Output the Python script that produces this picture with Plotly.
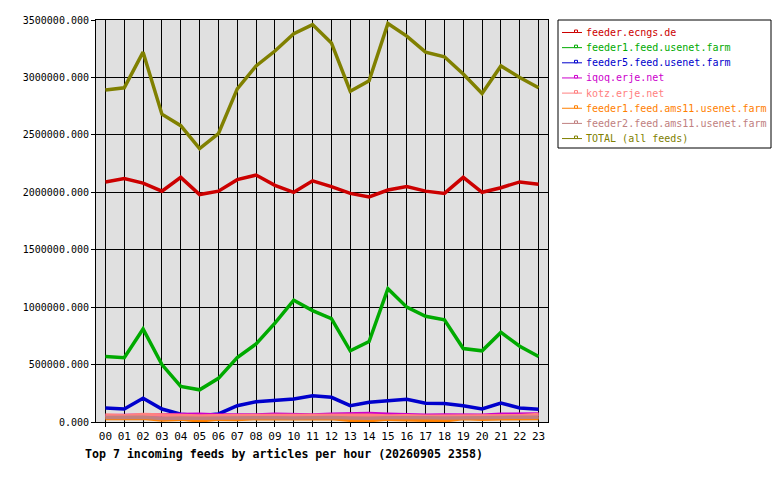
import plotly.graph_objects as go

hours = ["%02d" % h for h in range(24)]

ecngs = [2090000, 2120000, 2080000, 2010000, 2130000, 1980000, 2010000, 2110000,
         2150000, 2060000, 2000000, 2100000, 2050000, 1990000, 1960000, 2020000,
         2050000, 2010000, 1990000, 2130000, 2000000, 2040000, 2090000, 2070000]
feed1 = [570000, 560000, 810000, 500000, 310000, 280000, 380000, 560000,
         680000, 860000, 1060000, 970000, 900000, 620000, 700000, 1160000,
         1000000, 920000, 890000, 640000, 620000, 780000, 660000, 570000]
feed5 = [122000, 113000, 206000, 113000, 67000, 55000, 70000, 142000,
         177000, 189000, 200000, 229000, 215000, 142000, 171000, 185000,
         197000, 163000, 160000, 142000, 113000, 165000, 122000, 110000]
iqoq = [55000, 55000, 60000, 62000, 65000, 68000, 62000, 60000,
        62000, 68000, 65000, 62000, 68000, 70000, 75000, 68000,
        62000, 58000, 62000, 60000, 58000, 68000, 68000, 70000]
kotz = [62000, 55000, 65000, 60000, 55000, 52000, 55000, 55000,
        58000, 60000, 60000, 55000, 55000, 62000, 58000, 52000,
        55000, 50000, 50000, 55000, 52000, 55000, 55000, 65000]
ams11_1 = [30000, 28000, 32000, 18000, 25000, 10000, 25000, 22000,
           30000, 28000, 25000, 28000, 30000, 15000, 12000, 25000,
           20000, 15000, 10000, 30000, 25000, 28000, 30000, 30000]
ams11_2 = [40000, 38000, 42000, 30000, 35000, 32000, 35000, 38000,
           40000, 38000, 35000, 40000, 40000, 35000, 32000, 38000,
           40000, 38000, 35000, 40000, 38000, 40000, 42000, 42000]
total = [2890000, 2910000, 3220000, 2680000, 2580000, 2380000, 2510000, 2900000,
         3100000, 3230000, 3380000, 3460000, 3300000, 2880000, 2970000, 3470000,
         3360000, 3220000, 3180000, 3030000, 2860000, 3100000, 3000000, 2910000]

names = ["feeder.ecngs.de", "feeder1.feed.usenet.farm", "feeder5.feed.usenet.farm",
         "iqoq.erje.net", "kotz.erje.net", "feeder1.feed.ams11.usenet.farm",
         "feeder2.feed.ams11.usenet.farm", "TOTAL (all feeds)"]
values = [ecngs, feed1, feed5, iqoq, kotz, ams11_1, ams11_2, total]
colors = ["#cc0000", "#00aa00", "#0000cc", "#cc00cc", "#ff8080", "#ff8000",
          "#c08080", "#808000"]

mono = "DejaVu Sans Mono"

# plot area in pixels: x 96..548, y 20..422
L, R, T, B = 96, 548, 20, 422


def px(x):
    return (x - L) / (R - L)


def py(y):
    return (B - y) / (B - T)


fig = go.Figure()
for name, vals, col in zip(names, values, colors):
    fig.add_trace(go.Scatter(
        x=list(range(24)), y=vals, mode="lines", name=name,
        line=dict(color=col, width=3.5), showlegend=False,
    ))

# legend box drawn by hand, rrdtool style
shapes = [dict(type="rect", xref="paper", yref="paper",
               x0=px(558), x1=px(771), y0=py(20), y1=py(148),
               line=dict(color="black", width=1), fillcolor="white")]
annotations = []
for i, (name, col) in enumerate(zip(names, colors)):
    yc = 32.5 + 15.15 * i
    shapes.append(dict(type="line", xref="paper", yref="paper",
                       x0=px(562), x1=px(582), y0=py(yc), y1=py(yc),
                       line=dict(color=col, width=1)))
    shapes.append(dict(type="rect", xref="paper", yref="paper",
                       x0=px(574.5), x1=px(577.5), y0=py(yc), y1=py(yc - 2.5),
                       line=dict(color=col, width=1), fillcolor="white"))
    annotations.append(dict(text=name, xref="paper", yref="paper",
                            x=px(584), y=py(yc), xanchor="left", yanchor="middle",
                            showarrow=False, font=dict(family=mono, size=10, color=col)))

annotations.append(dict(
    text="<b>Top 7 incoming feeds by articles per hour (20260905 2358)</b>",
    xref="paper", yref="paper", x=px(83), y=py(445),
    xanchor="left", yanchor="top", showarrow=False,
    font=dict(family=mono, size=11.6, color="black"),
))

fig.update_layout(
    width=780, height=480,
    margin=dict(l=L, r=780 - R, t=T, b=480 - B, autoexpand=False),
    paper_bgcolor="white", plot_bgcolor="#e0e0e0",
    font=dict(family=mono, size=10, color="black"),
    showlegend=False,
    xaxis=dict(range=[-0.5, 23.5], tickmode="array", tickvals=list(range(24)),
               ticktext=hours, showgrid=True, gridcolor="black", gridwidth=1,
               zeroline=False, showline=True, linecolor="black", mirror=True,
               ticks="outside", ticklen=4, tickcolor="black",
               tickfont=dict(family=mono, size=11)),
    yaxis=dict(range=[0, 3500000], dtick=500000, tickformat=".3f",
               showgrid=True, gridcolor="black", gridwidth=1,
               zeroline=False, showline=True, linecolor="black", mirror=True,
               ticks="outside", ticklen=4, tickcolor="black",
               tickfont=dict(family=mono, size=10)),
    shapes=shapes,
    annotations=annotations,
)

# drop the browser's default 8px body margin so pixels line up
fig.write_html("out.html", config={"displayModeBar": False},
               post_script="document.body.style.margin='0';")
